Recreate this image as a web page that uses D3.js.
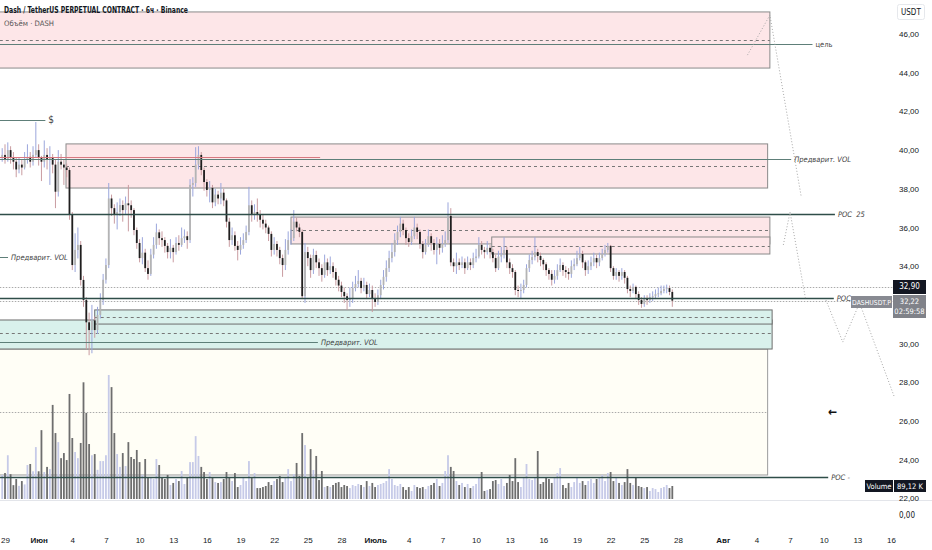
<!DOCTYPE html>
<html>
<head>
<meta charset="utf-8">
<script src="https://cdn.jsdelivr.net/npm/d3@7"></script>
<style>
  body { margin: 0; background: #fff; }
  svg { display: block; font-family: "Liberation Sans Narrow", "DejaVu Sans Condensed", "Liberation Sans", sans-serif; }
</style>
</head>
<body>
<svg id="chart" width="932" height="550"></svg>
<script>
// ---- data (6h candles, DASHUSDT.P) ----
const firstOpen = 39.6;
const closes = [
  39.75,39.5,40.0,39.6,39.4,39.0,39.25,39.1,39.5,39.65,39.4,39.75,40.0,39.6,39.4,39.75,39.5,39.6,39.25,37.85,
  39.4,39.25,39.1,38.97,36.65,34.06,34.84,35.1,33.29,32.25,31.1,30.7,31.2,30.7,31.48,32.25,33.3,34.06,37.5,37.0,
  36.65,36.8,37.16,36.9,37.25,37.15,36.9,35.87,35.2,34.42,34.7,33.9,33.6,34.6,35.1,35.75,35.45,35.35,35.05,34.73,
  34.95,34.73,35.2,35.1,35.45,35.55,35.35,38.2,38.3,39.25,39.75,38.97,38.35,37.94,38.05,37.3,37.7,37.5,37.8,37.4,
  36.3,35.35,35.6,35.05,34.84,35.1,35.35,35.77,37.15,36.65,36.8,36.65,36.4,36.2,36.0,35.67,34.84,35.15,34.84,34.42,
  34.06,34.84,35.35,35.45,36.3,36.0,35.77,32.45,34.73,34.42,33.8,34.58,34.2,33.9,33.55,34.2,33.8,34.0,33.7,33.3,
  33.0,32.67,32.45,32.25,32.35,32.87,33.08,33.24,32.87,33.03,32.56,32.77,32.35,32.15,32.5,33.03,33.45,33.9,34.42,34.73,
  35.35,35.77,36.2,35.87,35.45,35.25,35.55,36.0,35.77,35.15,34.73,35.1,35.55,35.2,34.84,35.15,34.95,35.15,35.35,36.6,
  34.2,34.0,34.2,34.06,34.2,33.9,34.2,34.06,34.42,34.5,35.1,34.84,34.73,34.95,34.73,34.42,33.9,34.5,34.58,34.84,
  34.2,33.9,33.7,32.77,32.72,32.77,33.03,33.9,34.32,34.47,34.73,34.53,34.32,34.1,33.8,33.6,33.3,33.5,33.8,34.06,
  33.8,33.7,33.6,34.0,34.1,34.42,34.63,34.2,33.8,34.0,34.2,34.42,34.2,34.42,34.63,34.84,35.05,33.9,33.5,33.7,
  33.5,33.7,33.4,32.82,32.72,32.93,32.56,32.25,32.05,32.3,32.25,32.4,32.45,32.56,32.6,32.72,32.82,32.87,32.67,32.22
];
const highs = [
  40.1,40.3,40.4,40.2,39.9,39.6,39.6,39.5,39.9,40.3,39.9,40.2,41.45,40.3,39.7,40.5,40.1,40.2,39.8,39.5,
  40.0,39.8,39.5,39.3,39.1,36.8,35.7,36.0,35.3,33.5,32.4,31.6,32.0,31.4,31.9,32.6,33.6,34.4,38.3,37.7,
  37.2,37.3,37.5,37.4,37.6,38.2,37.4,37.0,36.0,35.4,35.5,34.9,34.3,34.9,35.5,36.2,35.9,35.8,35.5,35.2,
  35.4,35.1,35.5,35.6,36.0,35.9,35.8,38.5,38.6,40.15,40.2,39.9,39.1,38.5,38.4,38.2,38.0,37.9,38.3,38.0,
  37.5,36.5,36.0,35.8,35.3,35.5,35.7,36.1,38.1,37.4,37.2,37.5,36.9,36.7,36.4,36.1,35.8,35.5,35.3,35.0,
  34.6,35.4,35.8,35.9,36.9,36.5,36.2,35.9,35.2,35.0,34.6,34.9,34.8,34.4,34.1,34.6,34.4,34.5,34.2,33.9,
  33.5,33.2,32.9,32.6,32.9,33.2,33.5,33.8,33.4,33.4,33.2,33.1,33.0,32.6,32.8,33.3,33.8,34.3,34.8,35.2,
  35.7,36.1,36.55,36.4,36.0,35.7,35.9,36.55,36.2,35.9,35.3,35.4,35.9,35.7,35.4,35.5,35.4,35.6,35.8,37.3,
  37.0,34.4,34.7,34.4,34.5,34.4,34.5,34.4,34.7,34.9,35.5,35.3,35.0,35.3,35.1,34.9,34.6,34.8,35.0,35.5,
  35.0,34.4,34.1,33.8,33.0,33.1,33.3,34.1,34.6,34.8,35.5,34.9,34.7,34.4,34.2,33.9,33.8,33.8,34.1,34.4,
  34.2,34.0,33.9,34.3,34.4,34.8,35.0,34.8,34.3,34.3,34.5,34.7,34.6,34.7,34.9,35.1,35.2,35.1,34.0,33.9,
  33.8,33.9,33.8,33.5,33.0,33.1,33.0,32.7,32.4,32.5,32.5,32.6,32.7,32.8,32.9,33.0,33.0,33.05,33.0,32.8
];
const lows = [
  39.4,39.3,39.4,39.3,39.0,38.6,38.8,38.7,39.0,39.3,39.1,39.2,39.6,39.2,38.4,39.1,39.0,38.2,38.8,37.0,
  37.6,39.0,38.2,38.6,36.4,33.8,33.7,34.4,33.0,31.9,29.7,29.4,29.5,30.3,30.5,31.3,32.0,33.1,33.9,36.6,
  36.2,35.9,36.6,36.3,36.7,35.8,36.5,35.6,34.9,34.2,34.1,33.7,33.3,33.5,34.4,34.9,35.1,35.0,34.7,34.4,
  34.4,34.2,34.6,34.8,35.0,35.2,34.9,35.2,37.6,38.1,39.0,38.7,37.9,37.6,37.3,37.0,37.1,37.2,37.2,37.1,
  36.0,35.0,35.1,34.8,34.3,34.6,34.9,35.2,35.6,36.3,36.4,36.3,36.0,35.9,35.7,35.3,34.5,34.6,34.5,34.1,
  33.45,33.8,34.6,35.1,35.3,35.8,35.5,32.3,32.1,34.0,33.4,33.6,33.9,33.5,33.2,33.4,33.5,33.6,33.4,33.0,
  32.7,32.4,32.1,31.75,31.9,32.1,32.7,32.9,32.6,32.7,32.3,32.4,31.63,31.9,32.0,32.3,32.8,33.2,33.7,34.2,
  34.5,35.1,35.5,35.6,35.1,35.0,35.1,35.4,35.4,34.9,34.4,34.6,35.0,34.8,34.6,34.1,34.6,34.7,35.0,35.2,
  34.0,33.7,33.6,33.8,33.9,33.6,33.8,33.8,33.9,34.2,34.4,34.6,34.4,34.6,34.4,34.2,33.7,33.8,34.2,34.4,
  33.9,33.6,33.4,32.5,32.4,32.3,32.6,32.9,33.7,34.1,34.3,34.2,34.0,33.8,33.5,33.3,33.0,33.1,33.3,33.7,
  33.5,33.4,33.3,33.4,33.8,34.0,34.3,33.9,33.5,33.6,33.8,34.0,33.9,34.0,34.3,34.5,34.7,33.7,33.3,33.3,
  33.2,33.3,33.1,32.6,32.4,32.6,32.3,32.0,31.85,31.9,32.0,32.1,32.2,32.3,32.4,32.5,32.6,32.6,32.5,31.9
];
// volume in thousands of DASH
const volumes = [
  165,178,300,170,95,137,90,123,100,233,240,190,356,190,472,185,220,205,645,452,
  390,280,315,267,720,418,322,280,384,800,590,377,300,308,200,260,260,300,850,767,
  452,308,220,315,226,390,288,274,336,253,165,274,144,144,137,274,233,144,137,165,
  96,110,137,123,192,103,144,253,253,431,295,220,185,137,185,150,116,110,116,137,
  185,144,123,178,82,96,144,123,260,150,178,75,75,82,89,116,96,123,137,158,
  116,150,205,123,171,247,158,452,370,150,342,199,295,130,192,82,89,82,96,110,
  116,82,96,89,75,96,89,103,96,82,123,89,110,82,96,103,110,123,205,137,
  96,89,103,82,62,82,55,96,82,75,82,68,89,96,110,137,89,110,192,300,
  220,192,123,96,110,82,103,75,89,103,150,185,55,62,68,123,130,103,137,89,
  110,165,123,280,116,82,150,240,137,130,150,329,103,116,150,137,110,150,178,212,
  96,75,110,82,116,144,110,123,96,123,137,110,137,150,165,123,178,185,123,150,
  110,96,116,205,110,96,150,89,82,75,82,55,75,68,48,75,82,96,75,89.12
];
const firstCandle = Date.UTC(2024, 4, 28, 18); // 28 May 18:00
const candleMs = 6 * 3600e3;

const priceTicks = [22, 24, 26, 28, 30, 34, 36, 38, 40, 42, 44, 46];
const timeTickDays = [0, 3, 6, 9, 12, 15, 18, 21, 24, 27, 30, 33, 36, 39, 42, 45, 48, 51, 54, 57, 60, 64, 67, 70, 73, 76, 79];
const timeTickLabels = ["29", "Июн", "4", "7", "10", "13", "16", "19", "22", "25", "28", "Июль", "4", "7", "10", "13", "16", "19", "22", "25", "28", "Авг", "4", "7", "10", "13", "16"];
const monthLabels = ["Июн", "Июль", "Авг"];

// drawings: [dayFrom, dayTo, priceTop, priceBottom] (day 0 = 29 May)
const pinkZones = [[-1, 68.2, 47.14, 44.24], [5.44, 68.0, 40.32, 38.04], [25.5, 68.2, 36.54, 35.15], [43.4, 68.2, 35.51, 34.63]];
const tealZones = [[-1, 68.4, 31.22, 29.72], [8.0, 68.4, 31.74, 31.01]];
const creamZones = [[-1, 68.0, 29.72, 23.21]];
// [dayFrom, dayTo, price]
const dashedLevels = [[-1, 68.2, 45.69], [5.44, 68.0, 39.18], [25.5, 68.2, 35.87], [43.4, 68.2, 35.04], [8.0, 68.4, 31.38], [-1, 68.4, 30.57]];
const dottedLevels = [[-1, 68.0, 26.47], [-1, 79.2, 32.90], [-1, 79.2, 32.22]];
const redLevels = [[-1, 28.1, 39.64]];
// [dayFrom, dayTo, price, label]
const labeledLevels = [
  [-1, 72.0, 45.48, "цель"],
  [-1, 70.1, 39.54, "Предварит. VOL"],
  [-1, 3.6, 41.56, "$"],
  [-1, 0.27, 34.48, "Предварит. VOL"],
  [-1, 27.9, 30.10, "Предварит. VOL"]
];
const pocLevels = [[-1, 74.0, 36.70, "POC\u00a0\u00a025"], [-1, 73.9, 32.36, "POC"], [-1, 73.4, 23.11, "POC -"]];
// projected path, [day, price]
const projections = [
  [[66.2, 44.91], [68.2, 46.98], [71.0, 37.58]],
  [[69.4, 35.10], [70.0, 36.80], [71.4, 32.25]],
  [[73.2, 32.25], [74.7, 30.08], [76.2, 32.10], [79.3, 27.24]]
];
const arrowMark = [73.8, 26.47];
const markPrice = 32.90;
const lastPrice = 32.22;

// ---- scales ----
const day0 = Date.UTC(2024, 4, 29);
const dayT = d => new Date(day0 + d * 864e5);

const x = d3.scaleUtc().domain([dayT(0), dayT(79)]).range([5, 891]);
const y = d3.scaleLinear().domain([22, 46]).range([498.4, 34]);
const yv = d3.scaleLinear().domain([0, 850]).range([499, 375]);
const fmtPrice = v => d3.format(".2f")(v).replace(".", ",");

const candles = closes.map((c, i) => ({
  t: new Date(firstCandle + i * candleMs),
  o: i ? closes[i - 1] : firstOpen,
  h: highs[i], l: lows[i], c: c, v: volumes[i]
}));

const svg = d3.select("#chart");
svg.append("rect").attr("width", 932).attr("height", 550).attr("fill", "#fff");

const plot = svg.append("g");

function zone(list, fill, stroke) {
  plot.selectAll(null).data(list).enter().append("rect")
    .attr("x", d => x(dayT(d[0])))
    .attr("y", d => y(d[2]))
    .attr("width", d => x(dayT(d[1])) - x(dayT(d[0])))
    .attr("height", d => y(d[3]) - y(d[2]))
    .attr("fill", fill)
    .attr("stroke", stroke)
    .attr("stroke-width", 1);
}
zone(creamZones, "#fffef6", "#9b9b9b");
zone(pinkZones, "#fde6e8", "#8a8a8a");
zone(tealZones, "#d9f1ec", "#6c6c6c");

function level(list, color, width, dash) {
  plot.selectAll(null).data(list).enter().append("line")
    .attr("x1", d => x(dayT(d[0])))
    .attr("x2", d => x(dayT(d[1])))
    .attr("y1", d => Math.round(y(d[2])) + 0.5)
    .attr("y2", d => Math.round(y(d[2])) + 0.5)
    .attr("stroke", color)
    .attr("stroke-width", width)
    .attr("stroke-dasharray", dash);
}
level(dashedLevels, "#777", 1, "3,3");
level(dottedLevels, "#aaa", 1, "1.5,1.5");

// volume
const bw = 1.8;
plot.selectAll("rect.vol").data(candles).enter().append("rect")
  .attr("class", "vol")
  .attr("x", d => x(d.t) - bw / 2)
  .attr("y", d => yv(d.v))
  .attr("width", bw)
  .attr("height", d => yv(0) - yv(d.v))
  .attr("fill", d => d.c >= d.o ? "#c6cae8" : "#6e6e6e");

// candles
plot.selectAll("line.wick").data(candles).enter().append("line")
  .attr("class", "wick")
  .attr("x1", d => x(d.t)).attr("x2", d => x(d.t))
  .attr("y1", d => y(Math.max(d.h, d.o, d.c)))
  .attr("y2", d => y(Math.min(d.l, d.o, d.c)))
  .attr("stroke", d => d.c >= d.o ? "#9ba6dc" : "#c99ca1")
  .attr("stroke-width", 1);

plot.selectAll("rect.body").data(candles).enter().append("rect")
  .attr("class", "body")
  .attr("x", d => x(d.t) - bw / 2)
  .attr("y", d => y(Math.max(d.o, d.c)))
  .attr("width", bw)
  .attr("height", d => Math.max(1, Math.abs(y(d.o) - y(d.c))))
  .attr("fill", d => d.c >= d.o ? "#b4b4b4" : "#1f1f1f");

// drawn lines
level(redLevels, "#d77880", 1, null);
level(labeledLevels, "#5e7f79", 1, null);
level(pocLevels, "#2f4e49", 1.6, null);

const lineGen = d3.line().x(d => x(dayT(d[0]))).y(d => y(d[1]));
plot.selectAll("path.proj").data(projections).enter().append("path")
  .attr("class", "proj")
  .attr("d", lineGen)
  .attr("fill", "none")
  .attr("stroke", "#a8a8a8")
  .attr("stroke-width", 1)
  .attr("stroke-dasharray", "1,2");

plot.selectAll("text.lvl").data(labeledLevels).enter().append("text")
  .attr("class", "lvl")
  .attr("x", d => x(dayT(d[1])) + 3)
  .attr("y", d => y(d[2]) + 3)
  .attr("font-size", d => d[3] === "$" ? 10 : 7.5)
  .attr("font-style", d => d[3].startsWith("Пред") ? "italic" : null)
  .attr("fill", "#444")
  .text(d => d[3]);

plot.selectAll("text.poc").data(pocLevels).enter().append("text")
  .attr("class", "poc")
  .attr("x", d => x(dayT(d[1])) + 3)
  .attr("y", d => y(d[2]) + 3)
  .attr("font-size", 7.5)
  .attr("font-style", "italic")
  .attr("fill", "#444")
  .text(d => d[3]);

plot.append("text")
  .attr("x", x(dayT(arrowMark[0])))
  .attr("y", y(arrowMark[1]) + 4)
  .attr("text-anchor", "middle")
  .attr("font-size", 12)
  .attr("font-weight", "bold")
  .attr("fill", "#111")
  .text("←");

// header
svg.append("text").attr("x", 4).attr("y", 13).attr("font-size", 8).attr("font-weight", "bold")
  .attr("textLength", 184).attr("lengthAdjust", "spacingAndGlyphs")
  .attr("fill", "#131722").text("Dash / TetherUS PERPETUAL CONTRACT · 6ч · Binance");
svg.append("text").attr("x", 4).attr("y", 26).attr("font-size", 7.5)
  .attr("textLength", 50).attr("lengthAdjust", "spacingAndGlyphs")
  .attr("fill", "#555").text("Объём · DASH");

// pane separator
svg.append("line").attr("x1", 0).attr("x2", 932).attr("y1", 500.5).attr("y2", 500.5)
  .attr("stroke", "#e3e5ea");

// price axis
const yAxis = svg.append("g").attr("transform", "translate(896,0)")
  .call(d3.axisRight(y).tickValues(priceTicks).tickSize(0).tickPadding(3).tickFormat(fmtPrice));
yAxis.select(".domain").remove();
yAxis.selectAll("text").attr("font-size", 8).attr("fill", "#131722").attr("font-family", null);

svg.append("rect").attr("x", 897.5).attr("y", 4.5).attr("width", 27).attr("height", 15)
  .attr("fill", "#fff").attr("stroke", "#e6e8ec").attr("rx", 2);
svg.append("text").attr("x", 901).attr("y", 15).attr("font-size", 8).attr("fill", "#131722").text("USDT");

svg.append("text").attr("x", 899).attr("y", 518).attr("font-size", 8).attr("fill", "#131722").text(fmtPrice(0));

// price labels
function tag(xp, yp, w, h, fill, lines, fs) {
  svg.append("rect").attr("x", xp).attr("y", yp).attr("width", w).attr("height", h).attr("fill", fill);
  lines.forEach((s, i) => {
    svg.append("text").attr("x", xp + w / 2).attr("y", yp + 9 + i * 10).attr("font-size", fs)
      .attr("text-anchor", "middle").attr("fill", "#fff").text(s);
  });
}
tag(893, Math.round(y(markPrice)) - 7, 33, 14, "#131722", [fmtPrice(markPrice)], 8);
tag(893, Math.round(y(lastPrice)) - 6, 33, 23, "#808289", [fmtPrice(lastPrice), "02:59:58"], 7.5);
tag(851, Math.round(y(lastPrice)) - 5, 41, 12, "#888a92", ["DASHUSDT.P"], 6.8);
const lastVol = volumes[volumes.length - 1];
tag(865, Math.round(yv(lastVol)) - 6, 28, 12, "#131722", ["Volume"], 7.5);
tag(894, Math.round(yv(lastVol)) - 6, 32, 12, "#131722", [d3.format(".2f")(lastVol).replace(".", ",") + " K"], 7.5);

// time axis
const xAxis = svg.append("g").attr("transform", "translate(0,535)")
  .call(d3.axisBottom(x).tickValues(timeTickDays.map(dayT)).tickSize(0).tickPadding(2)
    .tickFormat((d, i) => timeTickLabels[i]));
xAxis.select(".domain").remove();
xAxis.selectAll("text").attr("font-size", 8).attr("fill", "#131722").attr("font-family", null)
  .attr("font-weight", (d, i) => monthLabels.includes(timeTickLabels[i]) ? "bold" : null);
</script>
</body>
</html>
